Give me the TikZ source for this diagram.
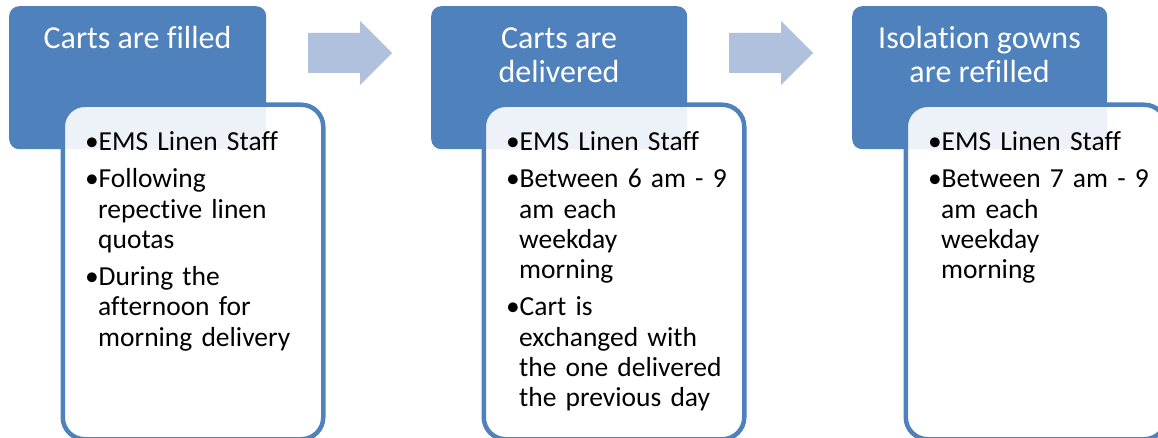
\documentclass[tikz,border=0pt]{standalone}
\usepackage{fontspec}
\setmainfont{Carlito}[Ligatures={NoCommon,NoRare,NoContextual}]
\definecolor{hdrblue}{HTML}{4F81BD}
\definecolor{arrblue}{HTML}{B0C1DE}
\newcommand{\bitm}[1]{\par\hangindent=13pt\hangafter=1\noindent\makebox[13.5pt][l]{•}#1}
\begin{document}
\begin{tikzpicture}[x=1pt,y=-1pt,
  hdr/.style={fill=hdrblue, rounded corners=10pt, inner sep=0pt, anchor=north west},
  bodybox/.style={draw=hdrblue, line width=4.5pt, fill=white, fill opacity=0.9, draw opacity=1, rounded corners=22pt, inner sep=0pt, anchor=north west, minimum width=260.5pt, minimum height=334.5pt},
  hdrtext/.style={text=white, font=\fontsize{32}{34}\selectfont, align=center, anchor=north, inner sep=0pt},
  bodytext/.style={text=black, anchor=north west, inner sep=0pt, text width=260pt, font=\fontsize{27.5}{30.3}\selectfont, align=left},
  blockarrow/.style={fill=arrblue}]
\useasboundingbox (0,0) rectangle (1158,438);
\clip (0,0) rectangle (1158,438);
% headers
\node[hdr, minimum width=257pt, minimum height=143pt] (h1) at (9,6) {};
\node[hdr, minimum width=256pt, minimum height=143pt] (h2) at (431,6) {};
\node[hdr, minimum width=255pt, minimum height=143pt] (h3) at (852,6) {};
% arrows
\fill[blockarrow] (308,33) -- (360,33) -- (360,21) -- (392,53) -- (360,85) -- (360,73) -- (308,73) -- cycle;
\fill[blockarrow] (729,33) -- (781,33) -- (781,21) -- (813,53) -- (781,85) -- (781,73) -- (729,73) -- cycle;
% bodies
\node[bodybox] (b1) at (60.5,102.5) {};
\node[bodybox] (b2) at (481.5,102.5) {};
\node[bodybox] (b3) at (903.5,102.5) {};
% header texts
\node[hdrtext] (ht1) at (137.5,24.2) {\strut Carts are filled};
\node[hdrtext] (ht2) at (559,24.2) {\strut Carts are\\delivered};
\node[hdrtext] (ht3) at (979.5,24.2) {\strut Isolation gowns\\are refilled};
% body texts
\node[bodytext] (bt1) at (85,113) {\setlength\parskip{7pt}%
\bitm{\strut EMS Linen Staff}
\bitm{Following\newline repective linen\newline quotas}
\bitm{During the\newline afternoon for\newline morning delivery}\par};
\node[bodytext] (bt2) at (506,113) {\setlength\parskip{7pt}%
\bitm{\strut EMS Linen Staff}
\bitm{Between 6 am - 9\newline am each\newline weekday\newline morning}
\bitm{Cart is\newline exchanged with\newline the one delivered\newline the previous day}\par};
\node[bodytext] (bt3) at (928,113) {\setlength\parskip{7pt}%
\bitm{\strut EMS Linen Staff}
\bitm{Between 7 am - 9\newline am each\newline weekday\newline morning}\par};
\end{tikzpicture}
\end{document}
